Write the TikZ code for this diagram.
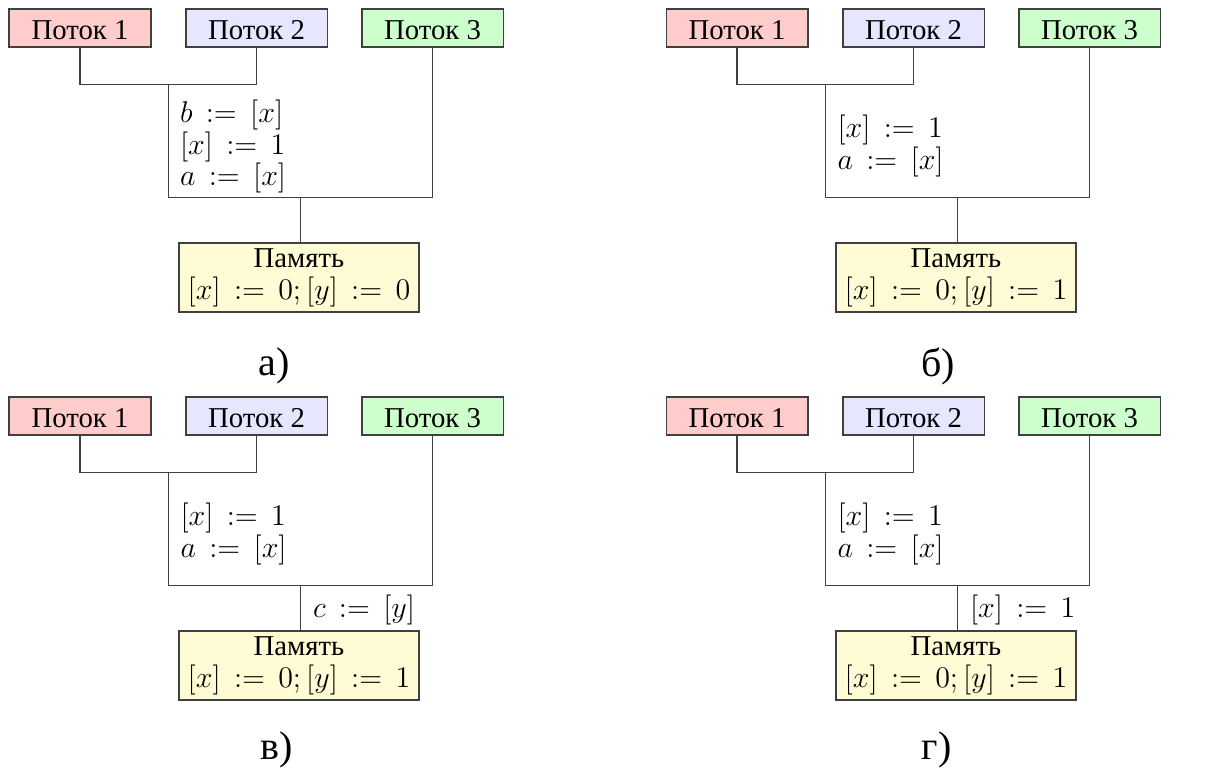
\documentclass[tikz,border=0pt]{standalone}
\usepackage{fontspec}
\setmainfont{Liberation Serif}

\definecolor{thrA}{RGB}{255,204,204}
\definecolor{thrB}{RGB}{230,230,255}
\definecolor{thrC}{RGB}{204,255,204}
\definecolor{memfill}{RGB}{255,251,212}
\definecolor{edge}{RGB}{64,64,64}

\tikzset{
  txt/.style={font=\fontsize{11.5}{12}\selectfont},
  thr/.style={txt, draw=edge, line width=0.6pt, minimum width=56.6pt,
              minimum height=15.2pt, inner sep=0pt, text height=8.8pt, text depth=0pt},
  mem/.style={txt, draw=edge, line width=0.6pt, fill=memfill, minimum width=96pt,
              minimum height=27.6pt, inner sep=0pt},
  wire/.style={draw=edge, line width=0.6pt},
  ops/.style={txt, anchor=base west, inner sep=0pt},
  tag/.style={font=\fontsize{16}{18}\selectfont, anchor=base, inner sep=0pt}
}

% one tree: three threads joined pairwise down to the memory box
% #1 = name prefix, #2 = value stored in [y]
\newcommand\threadtree[2]{%
  \node[thr, fill=thrA] (#1p1) at (80,28) {Поток 1};
  \node[thr, fill=thrB] (#1p2) at (256.5,28) {Поток 2};
  \node[thr, fill=thrC] (#1p3) at (432.5,28) {Поток 3};
  \node[mem] (#1mem) at (299,277.5)
    {\begin{tabular}[t]{@{}c@{}}Память\\ $[x]\,:=\,0;[y]\,:=\,#2$\end{tabular}};
  \coordinate (#1j1) at (168.25,84.3);
  \coordinate (#1j2) at (300.25,197.7);
  \draw[wire] (#1p1) |- (#1j1) -| (#1p2);
  \draw[wire] (#1j1) |- (#1j2) -| (#1p3);
  \draw[wire] (#1j2) -- (#1j2 |- #1mem.north);
}

\begin{document}
\begin{tikzpicture}[x=0.4pt, y=-0.4pt]
\useasboundingbox (0,0) rectangle (1206,769);

% (a)
\begin{scope}
  \threadtree{a}{0}
  \node[ops] (aops) at (179.5,122.7)
    {\begin{tabular}[t]{@{}l@{}}$b\,:=\,[x]$\\ $[x]\,:=\,1$\\ $a\,:=\,[x]$\end{tabular}};
\end{scope}

% (b)
\begin{scope}[shift={(657,0)}]
  \threadtree{b}{1}
  \node[ops] (bops) at (180,137.7)
    {\begin{tabular}[t]{@{}l@{}}$[x]\,:=\,1$\\ $a\,:=\,[x]$\end{tabular}};
\end{scope}

% (c)
\begin{scope}[shift={(0,388)}]
  \threadtree{c}{1}
  \node[ops] (cops) at (180,137.7)
    {\begin{tabular}[t]{@{}l@{}}$[x]\,:=\,1$\\ $a\,:=\,[x]$\end{tabular}};
  \node[ops] (cflush) at (312.5,229.3) {$c\,:=\,[y]$};
\end{scope}

% (d)
\begin{scope}[shift={(657,388)}]
  \threadtree{d}{1}
  \node[ops] (dops) at (180,137.7)
    {\begin{tabular}[t]{@{}l@{}}$[x]\,:=\,1$\\ $a\,:=\,[x]$\end{tabular}};
  \node[ops] (dflush) at (312.5,229.3) {$[x]\,:=\,1$};
\end{scope}

% sub-figure letters
\node[tag] (tagA) at (274.3,375) {а)};
\node[tag] (tagB) at (938,376.7) {б)};
\node[tag] (tagC) at (276.5,759) {в)};
\node[tag] (tagD) at (936.5,759) {г)};
\end{tikzpicture}
\end{document}
